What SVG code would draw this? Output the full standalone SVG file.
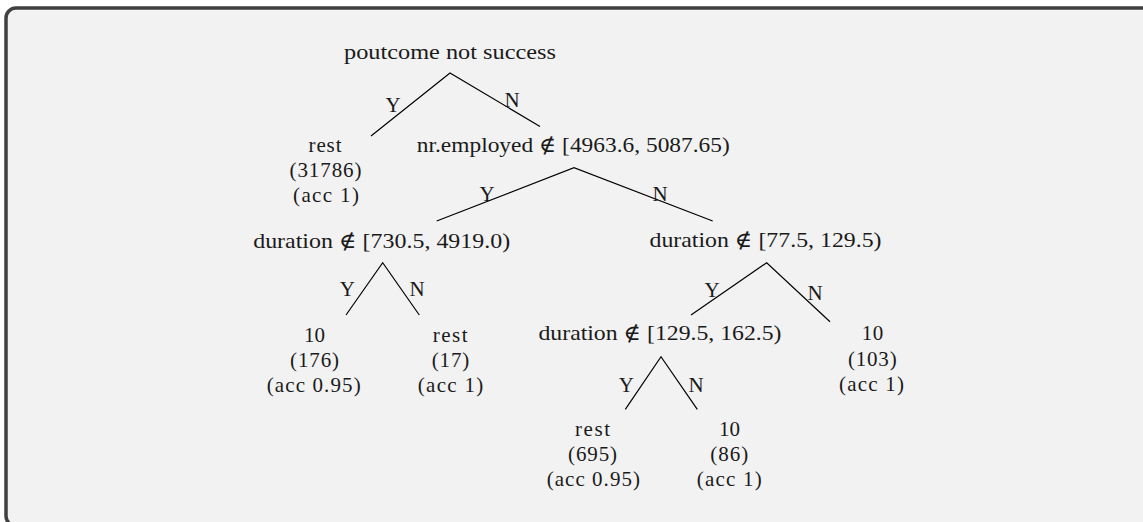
<svg xmlns="http://www.w3.org/2000/svg" width="1143" height="522" viewBox="0 0 1143 522">
<style>
text{font-family:"Liberation Serif","DejaVu Serif",serif;font-size:21px;fill:#1a1a1a;text-anchor:middle}
.e{stroke:#000;stroke-width:1.2;fill:none}
</style>
<rect x="0" y="0" width="1143" height="522" fill="#ffffff"/>
<rect x="6" y="8" width="1160" height="518" rx="10" ry="10" fill="#f2f2f2" stroke="#404040" stroke-width="3.5"/>
<g id="connectors">
<path class="e" d="M371,136 L450,73 L540,126.5"/>
<path class="e" d="M436.7,221 L574,167.7 L712.7,221"/>
<path class="e" d="M346,315 L382.7,262.7 L419.3,315"/>
<path class="e" d="M691,315 L766.7,262.7 L830,321.7"/>
<path class="e" d="M625.3,409.3 L661,356.7 L697.3,409.3"/>
<text x="393" y="112">Y</text><text x="512" y="107">N</text>
<text x="487" y="200.7">Y</text><text x="660" y="200.7">N</text>
<text x="347.3" y="296">Y</text><text x="417" y="296">N</text>
<text x="712" y="296.7">Y</text><text x="815" y="300">N</text>
<text x="626.3" y="391.7">Y</text><text x="696" y="391.7">N</text>
</g>
<g id="n_root"><text x="450" y="59" textLength="212" lengthAdjust="spacingAndGlyphs">poutcome not success</text></g>
<g id="n_rest1"><text x="325" y="152" textLength="33">rest</text><text x="325.5" y="177" textLength="72">(31786)</text><text x="326" y="202" textLength="66">(acc 1)</text></g>
<g id="n_nr"><text x="573.3" y="152" textLength="313" lengthAdjust="spacingAndGlyphs">nr.employed ∉ [4963.6, 5087.65)</text></g>
<g id="n_dur1"><text x="381.7" y="248" textLength="257" lengthAdjust="spacingAndGlyphs">duration ∉ [730.5, 4919.0)</text></g>
<g id="n_dur2"><text x="765.5" y="247" textLength="232" lengthAdjust="spacingAndGlyphs">duration ∉ [77.5, 129.5)</text></g>
<g id="n_leaf176"><text x="314.5" y="342" textLength="21">10</text><text x="314.5" y="367" textLength="49">(176)</text><text x="313.7" y="392" textLength="94">(acc 0.95)</text></g>
<g id="n_leaf17"><text x="450.2" y="342" textLength="35">rest</text><text x="450.5" y="367" textLength="37.6">(17)</text><text x="450.5" y="392" textLength="65.6">(acc 1)</text></g>
<g id="n_dur3"><text x="660" y="340" textLength="243" lengthAdjust="spacingAndGlyphs">duration ∉ [129.5, 162.5)</text></g>
<g id="n_leaf103"><text x="872.5" y="340" textLength="21.6">10</text><text x="872.3" y="366" textLength="48.7">(103)</text><text x="871.5" y="391" textLength="65">(acc 1)</text></g>
<g id="n_leaf695"><text x="592.5" y="436" textLength="35">rest</text><text x="592.5" y="461" textLength="49">(695)</text><text x="593.3" y="486" textLength="93.3">(acc 0.95)</text></g>
<g id="n_leaf86"><text x="729.5" y="436" textLength="21">10</text><text x="729.3" y="461" textLength="38">(86)</text><text x="729.2" y="486" textLength="65">(acc 1)</text></g>
</svg>
